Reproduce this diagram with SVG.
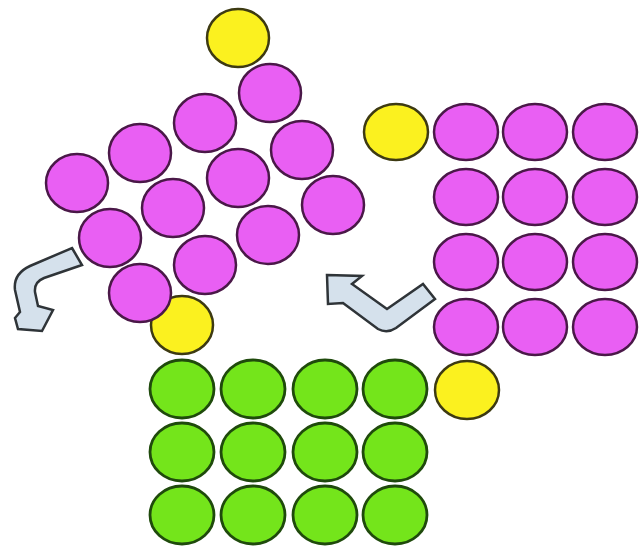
<svg xmlns="http://www.w3.org/2000/svg" width="644" height="549" viewBox="0 0 644 549">
  <style>
    .pink { fill: #e95ff3; stroke: #4a1848; stroke-width: 2.5; }
    .yellow { fill: #fbf11f; stroke: #3d3a12; stroke-width: 2.5; }
    .green { fill: #74e51b; stroke: #1f4a0c; stroke-width: 2.8; }
    .arrow { fill: #d5e1ec; stroke: #2f3438; stroke-width: 2.5; stroke-linejoin: miter; }
  </style>
  <rect width="644" height="549" fill="#ffffff"/>

  <!-- tilted cluster -->
  <g id="yellow-top"><ellipse class="yellow" cx="238" cy="38" rx="31" ry="29"/></g>
  <g id="yellow-tilted-bottom"><ellipse class="yellow" cx="182" cy="325" rx="31" ry="29"/></g>
  <g id="tilted-grid">
    <ellipse class="pink" cx="77" cy="183" rx="31" ry="29"/>
    <ellipse class="pink" cx="140" cy="153" rx="31" ry="29"/>
    <ellipse class="pink" cx="205" cy="123" rx="31" ry="29"/>
    <ellipse class="pink" cx="270" cy="93" rx="31" ry="29"/>
    <ellipse class="pink" cx="110" cy="238" rx="31" ry="29"/>
    <ellipse class="pink" cx="173" cy="208" rx="31" ry="29"/>
    <ellipse class="pink" cx="238" cy="178" rx="31" ry="29"/>
    <ellipse class="pink" cx="302" cy="150" rx="31" ry="29"/>
    <ellipse class="pink" cx="140" cy="293" rx="31" ry="29"/>
    <ellipse class="pink" cx="205" cy="265" rx="31" ry="29"/>
    <ellipse class="pink" cx="268" cy="235" rx="31" ry="29"/>
    <ellipse class="pink" cx="333" cy="205" rx="31" ry="29"/>
  </g>

  <!-- upright cluster on the right -->
  <g id="yellow-right"><ellipse class="yellow" cx="396" cy="132" rx="32" ry="28"/></g>
  <g id="right-grid">
    <ellipse class="pink" cx="466" cy="132" rx="32" ry="28"/>
    <ellipse class="pink" cx="535" cy="132" rx="32" ry="28"/>
    <ellipse class="pink" cx="605" cy="132" rx="32" ry="28"/>
    <ellipse class="pink" cx="466" cy="197" rx="32" ry="28"/>
    <ellipse class="pink" cx="535" cy="197" rx="32" ry="28"/>
    <ellipse class="pink" cx="605" cy="197" rx="32" ry="28"/>
    <ellipse class="pink" cx="466" cy="262" rx="32" ry="28"/>
    <ellipse class="pink" cx="535" cy="262" rx="32" ry="28"/>
    <ellipse class="pink" cx="605" cy="262" rx="32" ry="28"/>
    <ellipse class="pink" cx="466" cy="327" rx="32" ry="28"/>
    <ellipse class="pink" cx="535" cy="327" rx="32" ry="28"/>
    <ellipse class="pink" cx="605" cy="327" rx="32" ry="28"/>
  </g>

  <!-- green block -->
  <g id="yellow-green"><ellipse class="yellow" cx="467" cy="390" rx="32" ry="29"/></g>
  <g id="green-grid">
    <ellipse class="green" cx="182" cy="389" rx="32" ry="29"/>
    <ellipse class="green" cx="253" cy="389" rx="32" ry="29"/>
    <ellipse class="green" cx="325" cy="389" rx="32" ry="29"/>
    <ellipse class="green" cx="395" cy="389" rx="32" ry="29"/>
    <ellipse class="green" cx="182" cy="452" rx="32" ry="29"/>
    <ellipse class="green" cx="253" cy="452" rx="32" ry="29"/>
    <ellipse class="green" cx="325" cy="452" rx="32" ry="29"/>
    <ellipse class="green" cx="395" cy="452" rx="32" ry="29"/>
    <ellipse class="green" cx="182" cy="515" rx="32" ry="29"/>
    <ellipse class="green" cx="253" cy="515" rx="32" ry="29"/>
    <ellipse class="green" cx="325" cy="515" rx="32" ry="29"/>
    <ellipse class="green" cx="395" cy="515" rx="32" ry="29"/>
  </g>

  <!-- bent block arrows -->
  <g id="connectors">
    <path class="arrow" d="M72,248 L82,265 L44,278 Q34,282 35,292 L38,306 L53,310 L42,331 L18,329 L15,318 L20,312 L15,290 Q13,274 30,266 Z"/>
    <path class="arrow" d="M327,275 L362,276 L352,284 L387,309 L423,284 L435,299 L396,328 Q387,334 378,329 L343,303 L328,304 Z"/>
  </g>
</svg>
